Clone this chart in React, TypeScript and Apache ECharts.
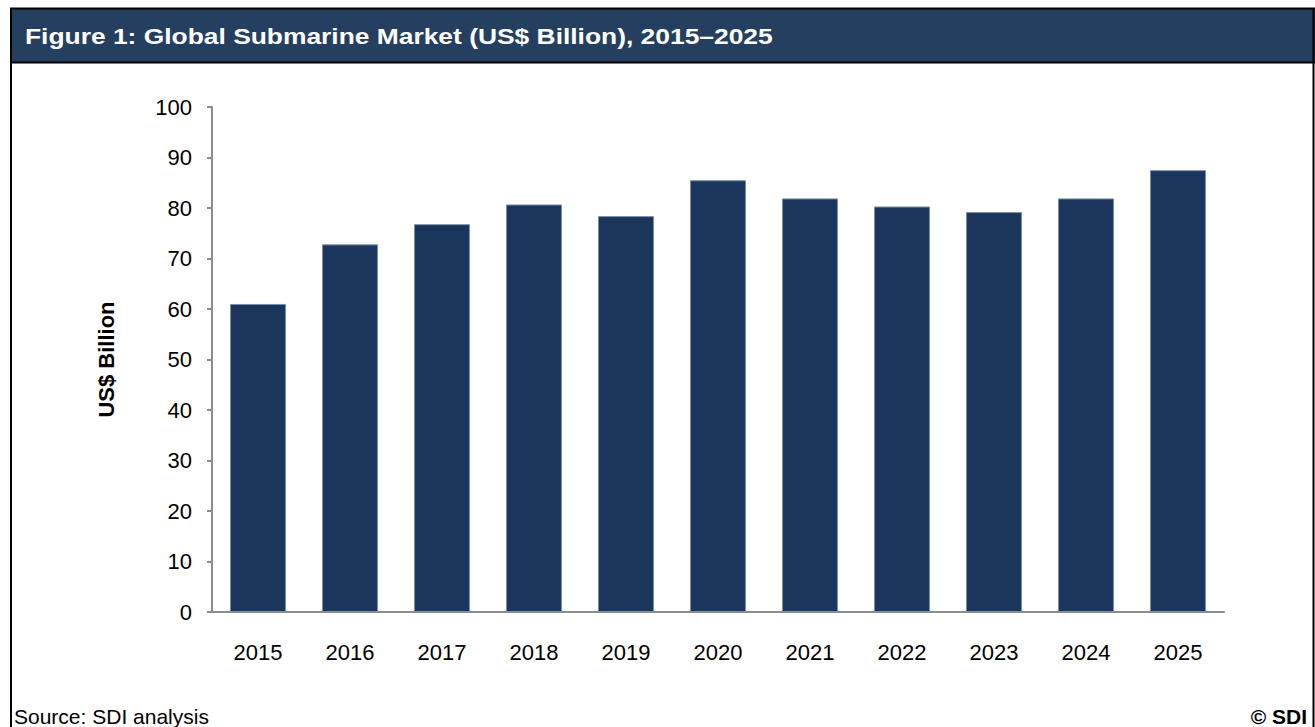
import React, { useEffect, useRef } from "react";
import * as echarts from "echarts";

const years = ["2015", "2016", "2017", "2018", "2019", "2020", "2021", "2022", "2023", "2024", "2025"];
const marketValues = [61.0, 72.8, 76.8, 80.7, 78.4, 85.5, 81.9, 80.3, 79.2, 81.9, 87.5];
const titleText = "Figure 1: Global Submarine Market (US$ Billion), 2015–2025";
const sourceText = "Source: SDI analysis";
const copyrightText = "© SDI";
const yAxisName = "US$ Billion";

export default function App() {
  const ref = useRef<HTMLDivElement>(null);
  useEffect(() => {
    if (!ref.current) return;
    const chart = echarts.init(ref.current, null, { renderer: "svg" });
    const font = "Liberation Sans, Arial, sans-serif";
    chart.setOption({
      animation: false,
      backgroundColor: "#ffffff",
      textStyle: { fontFamily: font },
      grid: { left: 212, right: 91, top: 107, bottom: 115 },
      xAxis: {
        type: "category",
        data: years,
        axisLine: { lineStyle: { color: "#8c8c8c", width: 2 } },
        axisTick: { show: false },
        axisLabel: { color: "#000", fontSize: 22, margin: 29, fontFamily: font },
      },
      yAxis: {
        type: "value",
        min: 0,
        max: 100,
        interval: 10,
        name: yAxisName,
        nameLocation: "middle",
        nameGap: 95,
        nameTextStyle: { color: "#000", fontSize: 22, fontWeight: "bold", fontFamily: font },
        axisLine: { show: true, lineStyle: { color: "#8c8c8c", width: 2 } },
        axisTick: { show: true, length: 5, lineStyle: { color: "#8c8c8c", width: 2 } },
        splitLine: { show: false },
        axisLabel: { color: "#000", fontSize: 22, margin: 20, fontFamily: font },
      },
      series: [
        {
          type: "bar",
          data: marketValues,
          barWidth: "61%",
          itemStyle: { color: "#1b365d", borderColor: "#7d90aa", borderWidth: 1 },
        },
      ],
      graphic: [
        {
          type: "rect",
          shape: { x: 10, y: 9, width: 1305, height: 53 },
          style: { fill: "#243f60" },
        },
        { type: "line", shape: { x1: 10, y1: 8.5, x2: 1315, y2: 8.5 }, style: { stroke: "#000", lineWidth: 2 } },
        { type: "line", shape: { x1: 10, y1: 62.5, x2: 1315, y2: 62.5 }, style: { stroke: "#000", lineWidth: 2 } },
        { type: "line", shape: { x1: 11, y1: 8, x2: 11, y2: 727 }, style: { stroke: "#000", lineWidth: 2 } },
        { type: "line", shape: { x1: 1313.5, y1: 8, x2: 1313.5, y2: 727 }, style: { stroke: "#000", lineWidth: 2 } },
        {
          type: "text",
          x: 25,
          y: 36,
          scaleX: 1.2,
          style: {
            text: titleText,
            fill: "#ffffff",
            font: `bold 22px ${font}`,
            verticalAlign: "middle",
          },
        },
        {
          type: "text",
          x: 14,
          y: 716,
          style: {
            text: sourceText,
            fill: "#000",
            font: `21px ${font}`,
            verticalAlign: "middle",
          },
        },
        {
          type: "text",
          x: 1307,
          y: 716,
          style: {
            text: copyrightText,
            fill: "#000",
            font: `bold 21px ${font}`,
            align: "right",
            verticalAlign: "middle",
          },
        },
      ],
    });
    return () => chart.dispose();
  }, []);
  return (
    <div
      ref={ref}
      style={{ position: "fixed", left: 0, top: 0, width: 1315, height: 727 }}
    />
  );
}
